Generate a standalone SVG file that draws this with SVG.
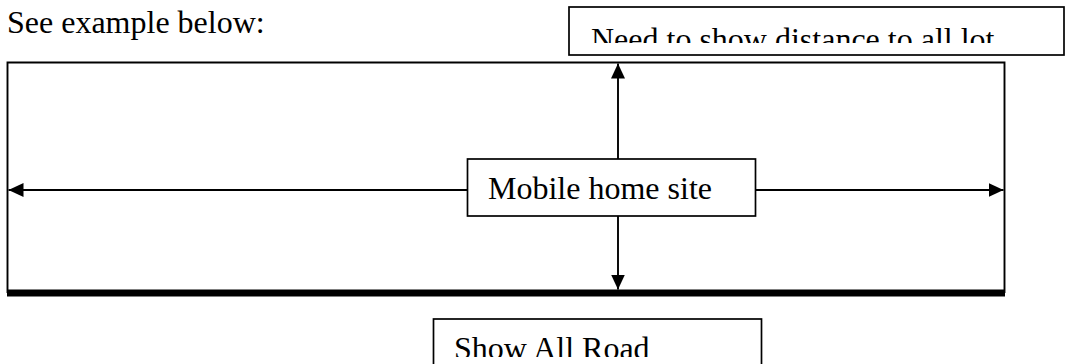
<svg xmlns="http://www.w3.org/2000/svg" width="1065" height="364" viewBox="0 0 1065 364">
  <style>
    .t { font-family: "Liberation Serif", "Times New Roman", serif; font-size: 32px; fill: #000; }
    .box { fill: #fff; stroke: #000; stroke-width: 1.7; }
    .ln { stroke: #000; stroke-width: 1.9; fill: none; }
  </style>
  <defs>
    <marker id="ah" viewBox="0 0 15 14" refX="15" refY="7" markerWidth="15" markerHeight="14" markerUnits="userSpaceOnUse" orient="auto">
      <path d="M0,0 L15,7 L0,14 Z" fill="#000"/>
    </marker>
    <clipPath id="clipTop"><rect x="569" y="7" width="496" height="36"/></clipPath>
    <clipPath id="clipBot"><rect x="433" y="319" width="330" height="38"/></clipPath>
  </defs>
  <rect width="1065" height="364" fill="#fff"/>

  <g id="caption">
    <text class="t" x="7" y="33">See example below:</text>
  </g>

  <g id="lot">
    <path class="ln" d="M7.5,293 L7.5,62.5 L1004.5,62.5 L1004.5,293"/>
    <rect x="7" y="289.5" width="998" height="7" fill="#000"/>
  </g>

  <g id="note-distance">
    <rect class="box" x="569" y="7" width="495" height="48"/>
    <text class="t" x="591" y="49.5" clip-path="url(#clipTop)">Need to show distance to all lot</text>
  </g>

  <g id="mobile-home-site">
    <rect class="box" x="467.5" y="159" width="288" height="57"/>
    <text class="t" x="488" y="199">Mobile home site</text>
  </g>

  <g id="note-road">
    <rect class="box" x="433.5" y="319" width="328" height="60"/>
    <text class="t" x="454" y="359" clip-path="url(#clipBot)">Show All Road</text>
  </g>

  <g id="connectors">
    <line class="ln" x1="467.5" y1="190" x2="8.5" y2="190" marker-end="url(#ah)"/>
    <line class="ln" x1="755.5" y1="190" x2="1003.5" y2="190" marker-end="url(#ah)"/>
    <line class="ln" x1="618" y1="159" x2="618" y2="63.5" marker-end="url(#ah)"/>
    <line class="ln" x1="618" y1="216" x2="618" y2="289.5" marker-end="url(#ah)"/>
  </g>
</svg>
